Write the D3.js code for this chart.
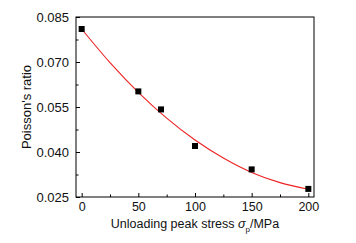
<!DOCTYPE html>
<html><head><meta charset="utf-8">
<script src="https://cdn.jsdelivr.net/npm/d3@7"></script>
<style>body{margin:0;background:#fff}svg{display:block;font-family:"Liberation Sans",Arial,sans-serif}</style>
</head><body><div id="chart"></div>
<script>
const stress = [0, 50, 70, 100, 150, 200];
const poisson = [0.0810, 0.0602, 0.0542, 0.0420, 0.0342, 0.0277];
const fitStress = [0, 25, 50, 75, 100, 125, 150, 175, 200];
const fitPoisson = [0.0810, 0.0698, 0.0599, 0.0513, 0.0440, 0.0380, 0.0332, 0.0298, 0.0276];
const xTicks = [0, 50, 100, 150, 200];
const xMinor = [25, 75, 125, 175];
const yTicks = [0.025, 0.040, 0.055, 0.070, 0.085];
const yMinor = [0.0325, 0.0475, 0.0625, 0.0775];

const W = 356, H = 243;
const m = {l: 76, r: 42, t: 17, b: 46};
const svg = d3.select("#chart").append("svg").attr("width", W).attr("height", H);
const x = d3.scaleLinear().domain([-5, 205]).range([m.l, W - m.r]);
const y = d3.scaleLinear().domain([0.025, 0.085]).range([H - m.b, m.t]);

const g = svg.append("g");
g.append("rect").attr("x", m.l).attr("y", m.t).attr("width", W - m.r - m.l).attr("height", H - m.b - m.t)
  .attr("fill", "none").attr("stroke", "#000").attr("stroke-width", 1);

const xAxis = d3.axisBottom(x).tickValues(xTicks).tickSizeInner(-4).tickSizeOuter(0).tickPadding(5).tickFormat(d3.format("d"));
const gx = g.append("g").attr("transform", `translate(0,${H - m.b})`).call(xAxis);
const gxm = g.append("g").attr("transform", `translate(0,${H - m.b})`).call(d3.axisBottom(x).tickValues(xMinor).tickSizeInner(-2.5).tickSizeOuter(0).tickFormat(""));
const yAxis = d3.axisLeft(y).tickValues(yTicks).tickSizeInner(-4).tickSizeOuter(0).tickPadding(7).tickFormat(d3.format(".3f"));
const gy = g.append("g").attr("transform", `translate(${m.l},0)`).call(yAxis);
const gym = g.append("g").attr("transform", `translate(${m.l},0)`).call(d3.axisLeft(y).tickValues(yMinor).tickSizeInner(-2.5).tickSizeOuter(0).tickFormat(""));
[gx, gxm, gy, gym].forEach(a => {
  a.select(".domain").remove();
  a.selectAll("line").attr("stroke", "#000");
  a.selectAll("text").attr("font-size", 12.5).attr("fill", "#111").attr("font-family", '"Liberation Sans",Arial,sans-serif');
});
gy.selectAll("text").attr("font-size", 13);
gx.selectAll("text").attr("dy", "0.71em");

const line = d3.line().x(d => x(d[0])).y(d => y(d[1])).curve(d3.curveCatmullRom);
g.append("path").datum(fitStress.map((s, i) => [s, fitPoisson[i]]))
  .attr("d", line).attr("fill", "none").attr("stroke", "#ee2222").attr("stroke-width", 1.1);

const sz = 6;
g.selectAll("rect.pt").data(stress.map((s, i) => [s, poisson[i]])).enter().append("rect")
  .attr("class", "pt").attr("x", d => x(d[0]) - sz / 2).attr("y", d => y(d[1]) - sz / 2)
  .attr("width", sz).attr("height", sz).attr("fill", "#000");

const xt = svg.append("text").attr("x", (m.l + W - m.r) / 2).attr("y", 228).attr("text-anchor", "middle")
  .attr("font-size", 12.5).attr("fill", "#111");
xt.append("tspan").text("Unloading peak stress ");
xt.append("tspan").attr("font-style", "italic").text("σ");
xt.append("tspan").attr("font-size", 8).attr("dy", 4).text("p");
xt.append("tspan").attr("dy", -4).text("/MPa");

svg.append("text").attr("transform", `translate(31,${(m.t + H - m.b) / 2}) rotate(-90)`)
  .attr("text-anchor", "middle").attr("font-size", 13).attr("fill", "#111").text("Poisson's ratio");
</script></body></html>
